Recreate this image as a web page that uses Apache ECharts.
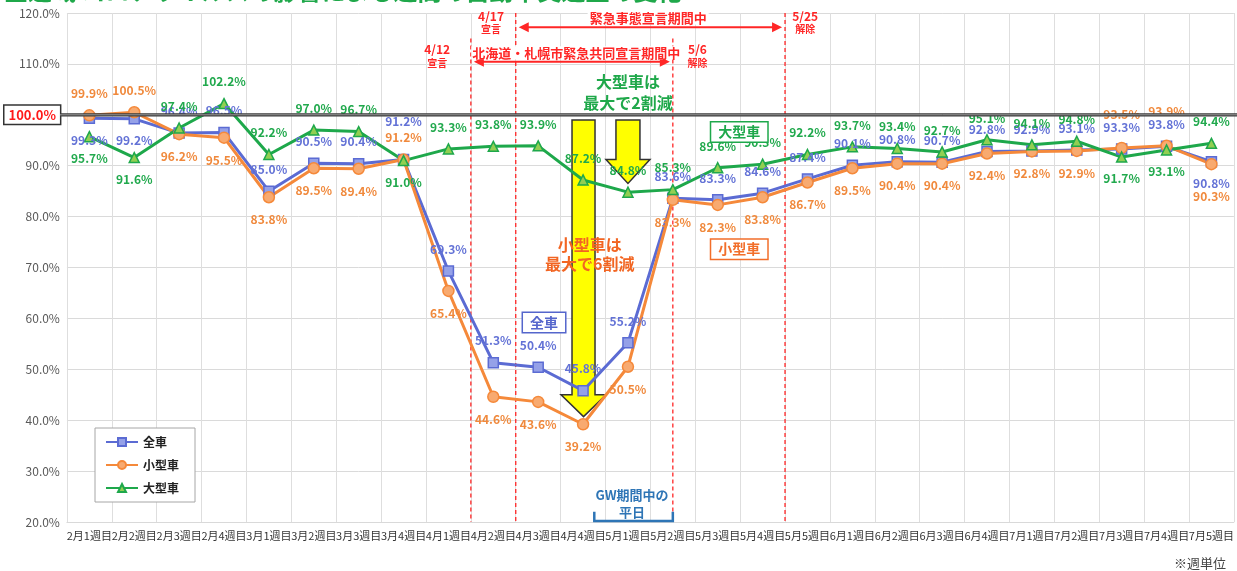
<!DOCTYPE html>
<html>
<head>
<meta charset="utf-8">
<script src="https://cdn.jsdelivr.net/npm/echarts@6/dist/echarts.min.js"></script>
<style>
  html, body { margin: 0; padding: 0; background: #ffffff; }
  #c { width: 1237px; height: 571px; }
</style>
</head>
<body>
<div id="c"></div>
<script>
// Weekly categories (Feb week 1 .. Jul week 5)
const weeks = [
  '2月1週目','2月2週目','2月3週目','2月4週目',
  '3月1週目','3月2週目','3月3週目','3月4週目',
  '4月1週目','4月2週目','4月3週目','4月4週目',
  '5月1週目','5月2週目','5月3週目','5月4週目','5月5週目',
  '6月1週目','6月2週目','6月3週目','6月4週目',
  '7月1週目','7月2週目','7月3週目','7月4週目','7月5週目'
];

// Traffic volume vs. previous year (%)
const allVehicles = [99.3, 99.2, 96.4, 96.5, 85.0, 90.5, 90.4, 91.2, 69.3, 51.3, 50.4, 45.8, 55.2,
  83.6, 83.3, 84.6, 87.4, 90.1, 90.8, 90.7, 92.8, 92.9, 93.1, 93.3, 93.8, 90.8];
const smallVehicles = [99.9, 100.5, 96.2, 95.5, 83.8, 89.5, 89.4, 91.2, 65.4, 44.6, 43.6, 39.2, 50.5,
  83.3, 82.3, 83.8, 86.7, 89.5, 90.4, 90.4, 92.4, 92.8, 92.9, 93.5, 93.9, 90.3];
const largeVehicles = [95.7, 91.6, 97.4, 102.2, 92.2, 97.0, 96.7, 91.0, 93.3, 93.8, 93.9, 87.2, 84.8,
  85.3, 89.6, 90.3, 92.2, 93.7, 93.4, 92.7, 95.1, 94.1, 94.8, 91.7, 93.1, 94.4];

const seriesNames = ['全車', '小型車', '大型車'];
const yMin = 20, yMax = 120, yStep = 10;

// Label placement (which points get their value label underneath, and extra spacing)
const allBelow = [0, 1, 25];
const allDist = { 7: 26 };
const smallBelow = [2, 3, 4, 5, 6, 8, 9, 10, 11, 12, 13, 14, 15, 16, 17, 18, 19, 20, 21, 22, 25];
const smallDist = { 23: 21, 24: 22, 25: 20 };
const largeBelow = [0, 1, 7, 23, 24];
const largeDist = {};

const FONT = '"Noto Sans CJK JP", "Noto Sans", sans-serif';
const BLUE = '#5b6bd3', BLUE_FILL = '#95a1e8', BLUE_TXT = '#6372d6';
const ORANGE = '#f5893a', ORANGE_FILL = '#f8aa70', ORANGE_TXT = '#f0893c';
const GREEN = '#1ea84b', GREEN_FILL = '#92cf52', GREEN_TXT = '#21a94d';
const RED = '#ff2626';

function pointData(values, below, dist) {
  return values.map((v, i) => ({
    value: v,
    label: { position: below.includes(i) ? 'bottom' : 'top', distance: dist[i] != null ? dist[i] : 10 }
  }));
}

function lineSeries(name, values, below, dist, color, fill, txt, symbol, size) {
  return {
    name: name,
    type: 'line',
    data: pointData(values, below, dist),
    symbol: symbol,
    symbolSize: size,
    lineStyle: { color: color, width: 3 },
    itemStyle: { color: fill, borderColor: color, borderWidth: 1.5 },
    label: {
      show: true,
      formatter: p => p.value.toFixed(1) + '%',
      color: txt,
      fontSize: 12,
      fontWeight: 'bold',
      fontFamily: FONT
    },
    emphasis: { disabled: true },
    z: 3
  };
}

const chart = echarts.init(document.getElementById('c'), null, { renderer: 'canvas' });

chart.setOption({
  animation: false,
  backgroundColor: '#ffffff',
  grid: { left: 66.5, right: 2.5, top: 13, bottom: 49 },
  legend: {
    orient: 'vertical',
    left: 95,
    top: 428,
    data: seriesNames,
    itemGap: 11,
    itemWidth: 32,
    itemHeight: 10,
    backgroundColor: '#ffffff',
    borderColor: '#a6a6a6',
    borderWidth: 1,
    padding: [8, 16, 8, 10],
    textStyle: { fontSize: 12, fontWeight: 'bold', color: '#222', fontFamily: FONT }
  },
  xAxis: [
    {
      type: 'category',
      data: weeks,
      boundaryGap: true,
      axisLine: { lineStyle: { color: '#d9d9d9' } },
      axisTick: { show: false },
      splitLine: { show: true, lineStyle: { color: '#dedede', width: 1 } },
      axisLabel: { interval: 0, fontSize: 11, color: '#333', margin: 8, fontFamily: FONT }
    },
    {
      // numeric twin of the category axis, used to place annotations between weeks
      type: 'value',
      min: -0.5,
      max: weeks.length - 0.5,
      show: false
    }
  ],
  yAxis: {
    type: 'value',
    min: yMin,
    max: yMax,
    interval: yStep,
    axisLine: { show: false },
    axisTick: { show: false },
    splitLine: { lineStyle: { color: '#dadada', width: 1 } },
    axisLabel: {
      margin: 7,
      color: '#595959',
      fontSize: 12,
      fontFamily: FONT,
      formatter: v => v === 100 ? '{box|100.0%}' : v.toFixed(1) + '%',
      rich: {
        box: {
          color: '#ff1a1a',
          fontWeight: 'bold',
          fontSize: 13,
          fontFamily: FONT,
          borderColor: '#333',
          borderWidth: 1.5,
          backgroundColor: '#fff',
          padding: [3, 4, 2, 4]
        }
      }
    }
  },
  series: [
    lineSeries(seriesNames[0], allVehicles, allBelow, allDist, BLUE, BLUE_FILL, BLUE_TXT, 'rect', 10),
    lineSeries(seriesNames[1], smallVehicles, smallBelow, smallDist, ORANGE, ORANGE_FILL, ORANGE_TXT, 'circle', 11),
    lineSeries(seriesNames[2], largeVehicles, largeBelow, largeDist, GREEN, GREEN_FILL, GREEN_TXT, 'triangle', 10)
  ]
});

// ---- annotations, positioned through the chart's own axes ----
const X = i => chart.convertToPixel({ xAxisIndex: 1 }, i);
const Y = v => chart.convertToPixel({ yAxisIndex: 0 }, v);
const g = [];

function text(str, x, y, color, size, weight, extra) {
  g.push({
    type: 'text', z: 20,
    style: Object.assign({
      text: str, x: x, y: y, fill: color,
      font: (weight || 'bold') + ' ' + size + 'px ' + FONT,
      align: 'center', verticalAlign: 'middle'
    }, extra || {})
  });
}

// title (runs off the top edge)
text('全道域 コロナウイルスの影響による週間の自動車交通量の変化', 4, -9, '#1fa84a', 24, 'bold', { align: 'left' });

// 100% reference line (double rule)
const y100 = Y(100);
g.push({ type: 'line', z: 4, shape: { x1: 60, y1: y100, x2: 1237, y2: y100 }, style: { stroke: '#3a3a3a', lineWidth: 3.2 } });
g.push({ type: 'line', z: 4, shape: { x1: 60, y1: y100, x2: 1237, y2: y100 }, style: { stroke: '#9a9a9a', lineWidth: 1 } });

// red dashed milestones: [position between weeks, top value]
const milestones = [[8.5, 115.0], [9.5, 120], [13, 115.0], [15.5, 120]];
milestones.forEach(m => {
  g.push({
    type: 'line', z: 2,
    shape: { x1: X(m[0]), y1: Y(m[1]), x2: X(m[0]), y2: Y(yMin) },
    style: { stroke: RED, lineWidth: 1.3, lineDash: [4, 3] }
  });
});

// double-headed period arrows
function periodArrow(a, b, v) {
  const x1 = X(a) + 3, x2 = X(b) - 3, y = Y(v);
  g.push({ type: 'line', z: 6, shape: { x1: x1 + 6, y1: y, x2: x2 - 6, y2: y }, style: { stroke: RED, lineWidth: 2 } });
  g.push({ type: 'polygon', z: 6, shape: { points: [[x1, y], [x1 + 10, y - 5], [x1 + 10, y + 5]] }, style: { fill: RED } });
  g.push({ type: 'polygon', z: 6, shape: { points: [[x2, y], [x2 - 10, y - 5], [x2 - 10, y + 5]] }, style: { fill: RED } });
}
periodArrow(9.5, 15.5, 117.2);
periodArrow(8.5, 13, 110.4);

text('緊急事態宣言期間中', X(12.45), Y(119.0), RED, 13, 'bold', { backgroundColor: '#fff', padding: [0, 2] });
text('北海道・札幌市緊急共同宣言期間中', X(10.85), Y(112.2), RED, 13, 'bold', { backgroundColor: '#fff', padding: [0, 1] });

text('4/17', X(8.95), Y(119.4), RED, 12, 'bold');
text('宣言', X(8.95), Y(116.8), RED, 10, 'bold');
text('4/12', X(7.75), Y(112.8), RED, 12, 'bold');
text('宣言', X(7.75), Y(110.2), RED, 10, 'bold');
text('5/6', X(13.55), Y(112.8), RED, 12, 'bold');
text('解除', X(13.55), Y(110.2), RED, 10, 'bold');
text('5/25', X(15.95), Y(119.4), RED, 12, 'bold');
text('解除', X(15.95), Y(116.8), RED, 10, 'bold');

// yellow down arrows
function downArrow(i, topV, neckV, tipV, rw, hw) {
  const cx = X(i), t = Y(topV), n = Y(neckV), p = Y(tipV);
  g.push({
    type: 'polygon', z: 1,
    shape: { points: [[cx - rw, t], [cx + rw, t], [cx + rw, n], [cx + hw, n], [cx, p], [cx - hw, n], [cx - rw, n]] },
    style: { fill: '#ffff00', stroke: '#333', lineWidth: 1.5 }
  });
}
downArrow(11.01, 99.0, 45.0, 40.7, 11.5, 22.5);
downArrow(12.0, 99.0, 91.2, 86.5, 12, 22);

text('大型車は', X(12.0), Y(106.5), '#1fa84a', 16, 'bold');
text('最大で2割減', X(12.0), Y(102.4), '#1fa84a', 16, 'bold');
text('小型車は', X(11.15), Y(74.5), '#f26522', 16, 'bold');
text('最大で6割減', X(11.15), Y(70.7), '#f26522', 16, 'bold');

// boxed series tags
function tag(str, i, v, color) {
  text(str, X(i), Y(v), color, 14, 'bold', {
    backgroundColor: '#fff', borderColor: color, borderWidth: 1.5, padding: [3, 7, 2, 7]
  });
}
tag('大型車', 14.48, 96.6, GREEN);
tag('小型車', 14.48, 73.6, '#f26e2a');
tag('全車', 10.13, 59.2, '#5566cc');

// GW weekday bracket
const GW = '#2e75b6';
text('GW期間中の', X(12.09), Y(25.3), GW, 13, 'bold');
text('平日', X(12.09), Y(22.0), GW, 13, 'bold');
const bx1 = X(11.25), bx2 = X(13), by = Y(yMin) - 1, bt = Y(22.0);
g.push({ type: 'polyline', z: 6, shape: { points: [[bx1, bt], [bx1, by], [bx2, by], [bx2, bt]] }, style: { stroke: GW, lineWidth: 2.5, fill: null } });

// footnote
text('※週単位', 1226, 563, '#444', 13, 'normal', { align: 'right' });

chart.setOption({ graphic: { elements: g } });
</script>
</body>
</html>
